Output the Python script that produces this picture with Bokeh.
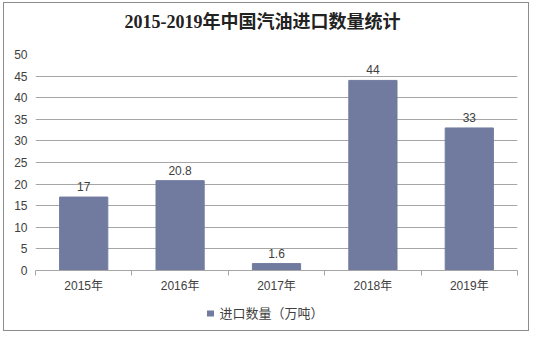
from bokeh.plotting import figure
from bokeh.models import ColumnDataSource, FixedTicker, LinearAxis, Range1d
from bokeh.core.properties import value
from bokeh.embed import file_html
from bokeh.resources import INLINE

title_text = "2015-2019年中国汽油进口数量统计"
years = ["2015年", "2016年", "2017年", "2018年", "2019年"]
values = [17, 20.8, 1.6, 44, 33]
value_labels = ["17", "20.8", "1.6", "44", "33"]
series_name = "进口数量（万吨）"
y_ticks = [0, 5, 10, 15, 20, 25, 30, 35, 40, 45, 50]

BAR = "#717BA0"
GRID = "#A6A6A6"
TXT = "#404040"
FONT = "Liberation Sans, Noto Sans CJK SC"

FW, FH = 482, 216          # frame size in pixels
TITLE_X = 227              # title centre, pixels from frame left
LEG_SQ_X, LEG_TX_X = 175, 236

xs = [i + 0.5 for i in range(len(years))]
src = ColumnDataSource(dict(x=xs, top=values, lab=value_labels))

W, H = 526, 329
p = figure(width=W, height=H, output_backend="svg", toolbar_location=None,
           x_range=Range1d(0, len(years)), y_range=Range1d(0, 50),
           min_border_left=31, min_border_right=13, min_border_top=51, min_border_bottom=62,
           styles={"border": "1px solid #8C8C8C", "margin-left": "3px", "margin-top": "2px"})
p.outline_line_color = None
p.background_fill_color = "white"
p.border_fill_color = "white"
p.extra_x_ranges = {"px": Range1d(0, FW)}

r = p.vbar(x="x", top="top", width=0.5, source=src, color=BAR)
p.text(x="x", y="top", text="lab", source=src, y_offset=-6,
       text_align="center", text_baseline="bottom",
       text_font=value(FONT), text_font_size="12px", text_color=TXT)

# x axis
xa = p.xaxis[0]
xa.ticker = FixedTicker(ticks=xs, minor_ticks=list(range(len(years) + 1)))
xa.major_label_overrides = {x: y for x, y in zip(xs, years)}
xa.major_tick_line_color = None
xa.major_tick_out = 0
xa.major_tick_in = 0
xa.minor_tick_line_color = GRID
xa.minor_tick_in = 0
xa.minor_tick_out = 5
xa.axis_line_color = GRID
xa.major_label_text_font = FONT
xa.major_label_text_font_size = "12px"
xa.major_label_text_color = TXT
xa.major_label_standoff = 3

ya = p.yaxis[0]
ya.ticker = FixedTicker(ticks=y_ticks)
ya.axis_line_color = None
ya.major_tick_line_color = None
ya.major_tick_out = 0
ya.major_tick_in = 0
ya.minor_tick_line_color = None
ya.major_label_text_font = FONT
ya.major_label_text_font_size = "12px"
ya.major_label_text_color = TXT
ya.major_label_standoff = 8

p.xgrid.grid_line_color = None
p.ygrid.ticker = FixedTicker(ticks=y_ticks)
p.ygrid.grid_line_color = GRID
p.ygrid.grid_line_width = 1

# title (drawn as the label of a bare axis above the frame)
ta = LinearAxis(x_range_name="px", ticker=FixedTicker(ticks=[TITLE_X], minor_ticks=[]),
                major_label_overrides={TITLE_X: title_text},
                axis_line_color=None, major_tick_line_color=None, minor_tick_line_color=None,
                major_tick_out=0, major_tick_in=0, minor_tick_out=0, minor_tick_in=0,
                major_label_standoff=23,
                major_label_text_font="Liberation Serif, Noto Sans CJK SC",
                major_label_text_font_style="bold", major_label_text_font_size="18px",
                major_label_text_color="#222222")
p.add_layout(ta, "above")

# legend (square = a thick minor tick, text = the major label)
la = LinearAxis(x_range_name="px", ticker=FixedTicker(ticks=[LEG_TX_X], minor_ticks=[LEG_SQ_X]),
                major_label_overrides={LEG_TX_X: series_name},
                axis_line_color=None, major_tick_line_color=None,
                major_tick_out=0, major_tick_in=0,
                minor_tick_line_color=BAR, minor_tick_line_width=7,
                minor_tick_in=-15, minor_tick_out=21,
                major_label_standoff=-11,
                major_label_text_font=FONT, major_label_text_font_size="13px",
                major_label_text_color=TXT)
p.add_layout(la, "below")

open("out.html", "w").write(file_html(p, INLINE))
